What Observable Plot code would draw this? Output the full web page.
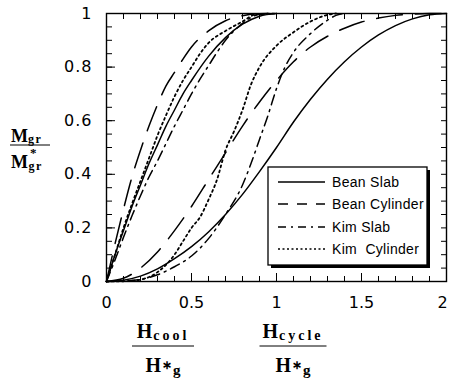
<!DOCTYPE html>
<html><head><meta charset="utf-8">
<script src="https://cdn.jsdelivr.net/npm/d3@7"></script>
<script src="https://cdn.jsdelivr.net/npm/@observablehq/plot@0.6"></script>
<style>body{margin:0;background:#fff}</style>
</head><body><div id="chart"></div>
<script>
// ---- data ----
const xTicks = [0, 0.5, 1, 1.5, 2];
const yTicks = [0, 0.2, 0.4, 0.6, 0.8, 1];
const xMinor = [0,0.1,0.2,0.3,0.4,0.5,0.6,0.7,0.8,0.9,1,1.1,1.2,1.3,1.4,1.5,1.6,1.7,1.8,1.9,2];
const yMinor = [0,0.05,0.1,0.15,0.2,0.25,0.3,0.35,0.4,0.45,0.5,0.55,0.6,0.65,0.7,0.75,0.8,0.85,0.9,0.95,1];
const seriesNames = ["Bean Slab", "Bean Cylinder", "Kim Slab", "Kim  Cylinder"];

const beanSlabCool = [[0,0],[0.05,0.1],[0.1,0.19],[0.15,0.28],[0.2,0.36],[0.25,0.44],[0.3,0.51],[0.35,0.58],[0.4,0.64],[0.45,0.7],[0.5,0.75],[0.6,0.84],[0.7,0.91],[0.8,0.96],[0.9,0.99],[1,1]];
const beanCylCool = [[0,0],[0.05,0.14],[0.1,0.27],[0.15,0.39],[0.2,0.49],[0.25,0.58],[0.3,0.66],[0.35,0.73],[0.4,0.78],[0.45,0.83],[0.5,0.875],[0.6,0.935],[0.7,0.973],[0.8,0.992],[0.9,0.999],[1,1]];
const kimSlabCool = [[0,0],[0.05,0.08],[0.1,0.165],[0.15,0.245],[0.2,0.32],[0.25,0.39],[0.3,0.45],[0.35,0.515],[0.4,0.58],[0.45,0.64],[0.5,0.7],[0.55,0.755],[0.6,0.805],[0.65,0.855],[0.7,0.9],[0.75,0.935],[0.8,0.963],[0.85,0.985],[0.9,0.997],[1,1]];
const kimCylCool = [[0,0],[0.05,0.1],[0.1,0.2],[0.15,0.29],[0.2,0.375],[0.25,0.46],[0.3,0.545],[0.35,0.62],[0.4,0.69],[0.45,0.75],[0.5,0.8],[0.55,0.85],[0.6,0.89],[0.7,0.935],[0.8,0.97],[0.88,0.997],[1,1]];

const beanSlabCycle = [[0,0],[0.1,0.005],[0.2,0.02],[0.3,0.047],[0.4,0.085],[0.5,0.13],[0.6,0.185],[0.7,0.25],[0.8,0.325],[0.9,0.41],[1,0.5],[1.1,0.595],[1.2,0.68],[1.3,0.755],[1.4,0.82],[1.5,0.875],[1.6,0.92],[1.7,0.955],[1.8,0.98],[1.9,0.995],[2,1]];
const beanCylCycle = [[0,0],[0.1,0.012],[0.2,0.05],[0.3,0.11],[0.4,0.19],[0.5,0.28],[0.6,0.38],[0.7,0.48],[0.8,0.58],[0.9,0.67],[1,0.75],[1.1,0.82],[1.2,0.875],[1.3,0.915],[1.4,0.945],[1.5,0.968],[1.6,0.983],[1.7,0.993],[1.8,0.998],[1.9,1],[2,1]];
const kimSlabCycle = [[0,0],[0.1,0.002],[0.2,0.008],[0.3,0.025],[0.4,0.055],[0.5,0.095],[0.6,0.16],[0.7,0.25],[0.8,0.36],[0.85,0.44],[0.9,0.53],[0.95,0.62],[1,0.72],[1.05,0.8],[1.1,0.855],[1.2,0.925],[1.3,0.975],[1.35,0.993],[1.4,1]];
const kimCylCycle = [[0,0],[0.1,0.001],[0.2,0.007],[0.3,0.035],[0.4,0.1],[0.45,0.15],[0.5,0.2],[0.55,0.24],[0.6,0.305],[0.65,0.38],[0.7,0.49],[0.75,0.56],[0.8,0.64],[0.85,0.735],[0.9,0.8],[1,0.88],[1.1,0.93],[1.2,0.97],[1.3,0.995],[1.35,1]];

// ---- build table ----
function rows(arr, name, group) { return arr.map(([x, y]) => ({x, y, name, key: name + group})); }
const table = [
  ...rows(beanSlabCool, seriesNames[0], "cool"), ...rows(beanSlabCycle, seriesNames[0], "cycle"),
  ...rows(beanCylCool, seriesNames[1], "cool"), ...rows(beanCylCycle, seriesNames[1], "cycle"),
  ...rows(kimSlabCool, seriesNames[2], "cool"), ...rows(kimSlabCycle, seriesNames[2], "cycle"),
  ...rows(kimCylCool, seriesNames[3], "cool"), ...rows(kimCylCycle, seriesNames[3], "cycle")
];
const dashes = {"Bean Slab": null, "Bean Cylinder": "26,13", "Kim Slab": "10,5,2,5", "Kim  Cylinder": "2,3.2"};
const legendDashes = {"Bean Slab": null, "Bean Cylinder": "10,9", "Kim Slab": "8,5,2,5", "Kim  Cylinder": "2,2.5"};

const lineMarks = seriesNames.map(n => Plot.line(table.filter(d => d.name === n), {
  x: "x", y: "y", z: "key", stroke: "black", strokeWidth: n === "Kim  Cylinder" ? 1.8 : 1.5,
  strokeDasharray: dashes[n], curve: "monotone-x"
}));

const plot = Plot.plot({
  width: 450, height: 381,
  marginLeft: 106, marginRight: 4, marginTop: 13, marginBottom: 100,
  style: {fontFamily: "DejaVu Sans", fontSize: "16px", background: "white", color: "black"},
  x: {domain: [0, 2], label: null},
  y: {domain: [0, 1], label: null},
  marks: [
    ...lineMarks,
    Plot.axisX(xTicks, {anchor: "bottom", tickSize: 0, tickPadding: 15, label: null, tickFormat: d => String(d)}),
    Plot.axisY(yTicks, {anchor: "left", tickSize: 0, tickPadding: 14, label: null, tickFormat: d => String(d)}),
    Plot.axisX(xMinor, {anchor: "bottom", tickSize: -5, label: null, tickFormat: () => ""}),
    Plot.axisX(xTicks, {anchor: "bottom", tickSize: -8, label: null, tickFormat: () => ""}),
    Plot.axisX(xMinor, {anchor: "top", tickSize: -5, label: null, tickFormat: () => ""}),
    Plot.axisY(yMinor, {anchor: "left", tickSize: -6, label: null, tickFormat: () => ""}),
    Plot.axisY(yTicks, {anchor: "left", tickSize: -9, label: null, tickFormat: () => ""}),
    Plot.axisY(yMinor, {anchor: "right", tickSize: -6, label: null, tickFormat: () => ""}),
    Plot.frame({stroke: "black", strokeWidth: 1.4})
  ]
});
document.getElementById("chart").appendChild(plot);

// ---- annotations: axis labels & legend ----
const svg = d3.select(plot);
svg.selectAll("text").each(function () {
  const t = d3.select(this);
  if (t.text() === "2") t.attr("dx", -4);
});
svg.selectAll("g[aria-label='y-axis tick label'] text").attr("letter-spacing", "1");

const serif = "Liberation Serif";
function frac(g, cx, yNum, yLine, yDen, num, numSub, denStar, denSub, w, size, subSize, spacing) {
  const t1 = g.append("text").attr("x", cx).attr("y", yNum).attr("text-anchor", "middle")
    .attr("font-family", serif).attr("font-weight", "bold").attr("font-size", size);
  t1.append("tspan").text(num);
  t1.append("tspan").attr("font-size", subSize).attr("dy", 2).attr("dx", 1).attr("letter-spacing", spacing).text(numSub);
  g.append("line").attr("x1", cx - w / 2).attr("x2", cx + w / 2).attr("y1", yLine).attr("y2", yLine)
    .attr("stroke", "black").attr("stroke-width", 1);
  const t2 = g.append("text").attr("x", cx).attr("y", yDen).attr("text-anchor", "middle")
    .attr("font-family", serif).attr("font-weight", "bold").attr("font-size", size);
  t2.append("tspan").text(num);
  t2.append("tspan").attr("font-size", subSize - 2).attr("dy", -3).attr("dx", 1).text(denStar);
  t2.append("tspan").attr("font-size", subSize + 1).attr("dy", 6).attr("dx", 1).text(denSub);
}
const ann = svg.append("g");
frac(ann, 163, 338, 346, 372, "H", "cool", "∗", "g", 62, 20, 14, 3);
frac(ann, 293, 338, 346, 372, "H", "cycle", "∗", "g", 67, 20, 14, 3);

// y label
const yl = ann.append("g");
const n1 = yl.append("text").attr("x", 11).attr("y", 142).attr("text-anchor", "start")
  .attr("font-family", serif).attr("font-weight", "bold").attr("font-size", 18);
n1.append("tspan").text("M");
n1.append("tspan").attr("font-size", 12).attr("dy", 1).attr("letter-spacing", 1.5).text("gr");
yl.append("line").attr("x1", 10).attr("x2", 50).attr("y1", 145).attr("y2", 145).attr("stroke", "black").attr("stroke-width", 1);
const d1 = yl.append("text").attr("x", 11).attr("y", 168).attr("text-anchor", "start")
  .attr("font-family", serif).attr("font-weight", "bold").attr("font-size", 18);
d1.append("tspan").text("M");
d1.append("tspan").attr("font-size", 13).attr("dy", -11).attr("dx", 2).text("*");
d1.append("tspan").attr("font-size", 12).attr("dy", 13).attr("dx", -8).attr("letter-spacing", 1.5).text("gr");

// legend
const lg = ann.append("g");
const bx = 268, by = 167, bw = 159, bh = 98;
lg.append("rect").attr("x", bx + 3).attr("y", by + 3).attr("width", bw).attr("height", bh).attr("fill", "black");
lg.append("rect").attr("x", bx).attr("y", by).attr("width", bw).attr("height", bh).attr("fill", "white").attr("stroke", "black").attr("stroke-width", 1.3);
const rowY = [182, 204, 227, 249];
seriesNames.forEach((n, i) => {
  lg.append("line").attr("x1", 278).attr("x2", 325).attr("y1", rowY[i]).attr("y2", rowY[i])
    .attr("stroke", "black").attr("stroke-width", 1.5).attr("stroke-dasharray", legendDashes[n]);
  lg.append("text").attr("x", 332).attr("y", rowY[i] + 5).attr("text-anchor", "start").attr("font-family", "Liberation Sans")
    .attr("font-size", 14).attr("letter-spacing", 0.3).style("white-space", "pre").text(n);
});
</script></body></html>
